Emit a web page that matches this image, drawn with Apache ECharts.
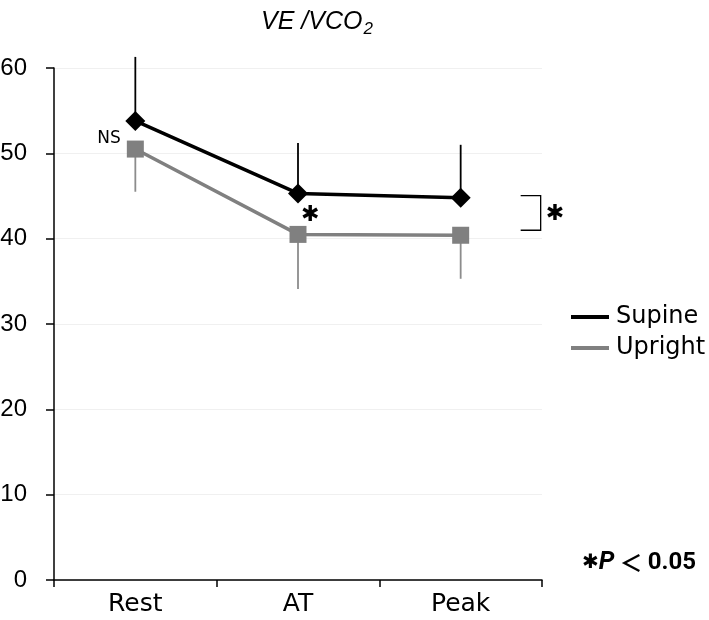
<!DOCTYPE html>
<html><head><meta charset="utf-8">
<script src="https://cdn.jsdelivr.net/npm/echarts@6/dist/echarts.min.js"></script>
<style>html,body{margin:0;padding:0;background:#fff}#c{width:709px;height:620px}</style>
</head><body><div id="c"></div>
<script>
const categories = ['Rest', 'AT', 'Peak'];
const supine = [53.8, 45.3, 44.8];
const upright = [50.5, 40.5, 40.4];
const supineUpper = [61.3, 51.2, 51.0];
const uprightLower = [45.5, 34.1, 35.3];
const yTicks = [0, 10, 20, 30, 40, 50, 60];

const FONT = '"DejaVu Sans", sans-serif';
const STAR = '"DejaVu Sans", sans-serif';
const ARIAL = '"Liberation Sans", Arial, sans-serif';
const chart = echarts.init(document.getElementById('c'));

function errBar(color, width) {
  return function (params, api) {
    const i = api.value(0);
    const a = api.coord([i, api.value(1)]);
    const b = api.coord([i, api.value(2)]);
    return { type: 'line', shape: { x1: a[0], y1: a[1], x2: b[0], y2: b[1] },
      style: { stroke: color, lineWidth: width } };
  };
}

chart.setOption({
  animation: false,
  textStyle: { fontFamily: FONT },
  title: {
    text: '{i|VE /VCO}{s|2}', left: 312, textAlign: 'center', top: 2,
    textStyle: { fontWeight: 'normal', rich: {
      i: { fontSize: 25, fontStyle: 'italic', fontWeight: 'normal', fontFamily: ARIAL, color: '#000' },
      s: { fontSize: 17, fontStyle: 'italic', fontWeight: 'normal', fontFamily: ARIAL, color: '#000', verticalAlign: 'bottom', padding: [14, 0, 0, 1] }
    } }
  },
  grid: { left: 54, right: 167, top: 68, bottom: 40, containLabel: false, outerBoundsMode: 'none' },
  legend: {
    left: 566, top: 300, orient: 'vertical', itemGap: 7,
    itemWidth: 38, itemHeight: 4, icon: 'rect',
    textStyle: { fontSize: 24, color: '#000', fontFamily: FONT, padding: [0, 0, 0, 2] },
    data: ['Supine', 'Upright']
  },
  xAxis: {
    type: 'category', data: categories, boundaryGap: true,
    axisLine: { lineStyle: { color: '#000', width: 1.5 } },
    axisTick: { show: true, length: 7, inside: false, lineStyle: { color: '#000', width: 1.5 } },
    axisLabel: { fontSize: 25, color: '#000', margin: 12, fontFamily: FONT }
  },
  yAxis: {
    type: 'value', min: 0, max: 60, interval: 10,
    axisLine: { show: true, lineStyle: { color: '#000', width: 1.5 } },
    axisTick: { show: true, length: 8, lineStyle: { color: '#000', width: 1.5 } },
    axisLabel: { fontSize: 24, color: '#000', margin: 27, fontFamily: ARIAL,
      formatter: v => yTicks.includes(v) ? String(v) : '' },
    splitLine: { show: true, lineStyle: { color: '#f0f0f0', width: 1 } }
  },
  series: [
    { type: 'custom', name: 'supErr', renderItem: errBar('#000', 1.8), z: 1,
      data: categories.map((c, i) => [i, supine[i], supineUpper[i]]), silent: true },
    { type: 'custom', name: 'upErr', renderItem: errBar('#8c8c8c', 1.8), z: 1,
      data: categories.map((c, i) => [i, upright[i], uprightLower[i]]), silent: true },
    { name: 'Supine', type: 'line', data: supine, z: 5,
      lineStyle: { color: '#000', width: 3.5 }, itemStyle: { color: '#000' },
      symbol: 'diamond', symbolSize: 20 },
    { name: 'Upright', type: 'line', data: upright, z: 4,
      lineStyle: { color: '#808080', width: 3.5 }, itemStyle: { color: '#808080' },
      symbol: 'rect', symbolSize: 17 }
  ]
});

function drawAnnotations() {
  const p = (i, v) => chart.convertToPixel({ gridIndex: 0 }, [i, v]);
  const restUp = p(0, upright[0]);
  const atUp = p(1, upright[1]);
  const pkSup = p(2, supine[2]);
  const pkUp = p(2, upright[2]);
  const bx = pkSup[0] + 80;
  chart.setOption({
    graphic: [
      { type: 'text', x: restUp[0] - 38, y: restUp[1] - 19,
        style: { text: 'NS', fontSize: 17, fill: '#000', fontFamily: FONT } },
      { type: 'text', x: atUp[0] + 3, y: atUp[1] - 30,
        style: { text: '✱', fontSize: 22, fill: '#000', fontFamily: STAR } },
      { type: 'polyline', shape: { points: [[bx - 20, pkSup[1] - 2], [bx, pkSup[1] - 2], [bx, pkUp[1] - 5], [bx - 20, pkUp[1] - 5]] },
        style: { stroke: '#000', lineWidth: 1.3, fill: null } },
      { type: 'text', x: bx + 5, y: (pkSup[1] + pkUp[1]) / 2 - 13,
        style: { text: '✱', fontSize: 22, fill: '#000', fontFamily: STAR } },
      { type: 'text', x: 582, y: 550,
        style: { text: '{a|✱}{b|P}{c| ＜ }{d|0.05}', rich: {
          a: { fontSize: 20, fill: '#000', fontFamily: STAR },
          b: { fontSize: 25, fontWeight: 'bold', fontStyle: 'italic', fontFamily: 'Roboto, sans-serif' },
          c: { fontSize: 23, fontWeight: 'bold', fontFamily: '"Noto Sans CJK JP", sans-serif' },
          d: { fontSize: 24, fontWeight: 'bold', fontFamily: 'Roboto, sans-serif' }
        } } }
    ]
  });
}
drawAnnotations();
</script></body></html>
